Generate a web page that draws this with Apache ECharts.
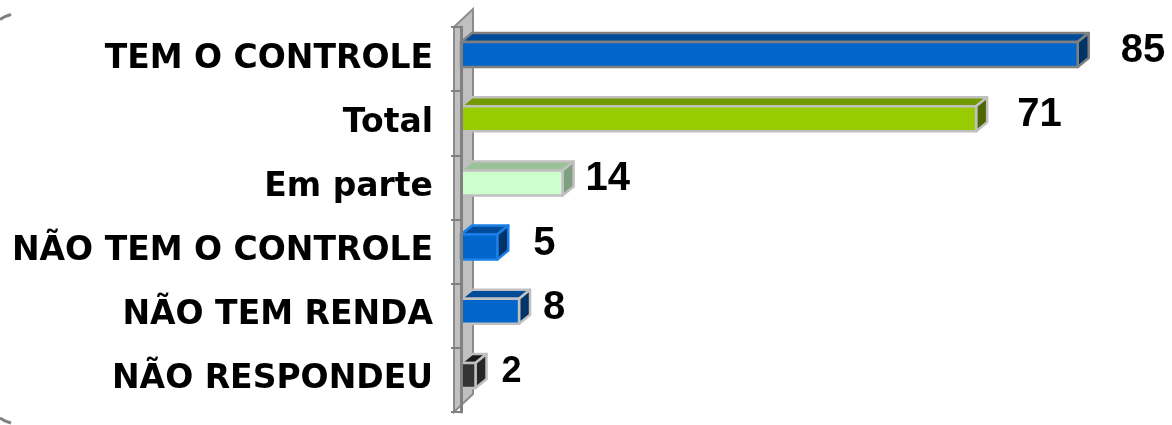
<!DOCTYPE html>
<html>
<head>
<meta charset="utf-8">
<script src="https://cdn.jsdelivr.net/npm/echarts@6/dist/echarts.min.js"></script>
<style>
  html, body { margin: 0; padding: 0; background: #fff; }
  #chart { width: 1172px; height: 425px; }
</style>
</head>
<body>
<div id="chart"></div>
<script>
// categorias (de cima para baixo) e valores
var categorias = ["TEM O CONTROLE", "Total", "Em parte", "NÃO TEM O CONTROLE", "NÃO TEM RENDA", "NÃO RESPONDEU"];
var valores = [85, 71, 14, 5, 8, 2];

// cores de cada barra: frente, topo, lateral, borda
var corFrente = ["#0066CC", "#99CC00", "#CCFFCC", "#0066CC", "#0066CC", "#333333"];
var corTopo = ["#004C99", "#739900", "#99C299", "#004C99", "#004C99", "#1A1A1A"];
var corLado = ["#003366", "#4D6600", "#7F9F7F", "#003366", "#003366", "#262626"];
var corBorda = ["#808080", "#C0C0C0", "#C0C0C0", "#1A7FE6", "#C0C0C0", "#C0C0C0"];
// ajuste manual dos rótulos (distância e tamanho)
var rotuloDist = [32, 30, 12, 25, 13, 15];
var rotuloTam = [40, 40, 40, 40, 40, 36];

var gridLeft = 461, gridTop = 27, gridBottom = 13;
var dx = 11, dy = 9;

var myChart = echarts.init(document.getElementById("chart"));

function renderBarra(params, api) {
    var i = api.value(1);
    var p0 = api.coord([0, i]);
    var p1 = api.coord([api.value(0), i]);
    var x0 = p0[0], x1 = p1[0], yc = p0[1];
    var yt = yc - 17, yb = yc + 8;
    var borda = { stroke: corBorda[i], lineWidth: 2.5, lineJoin: "round" };
    return {
        type: "group",
        children: [
            {
                type: "polygon",
                shape: { points: [[x0, yt], [x0 + dx, yt - dy], [x1 + dx, yt - dy], [x1, yt]] },
                style: Object.assign({ fill: corTopo[i] }, borda)
            },
            {
                type: "polygon",
                shape: { points: [[x1, yt], [x1 + dx, yt - dy], [x1 + dx, yb - dy], [x1, yb]] },
                style: Object.assign({ fill: corLado[i] }, borda)
            },
            {
                type: "rect",
                shape: { x: x0, y: yt, width: x1 - x0, height: yb - yt },
                style: Object.assign({ fill: corFrente[i] }, borda)
            },
            {
                type: "text",
                x: x1 + dx + rotuloDist[i],
                y: yc - 8,
                style: {
                    text: String(api.value(0)),
                    fill: "#000",
                    font: "bold " + rotuloTam[i] + "px 'Liberation Sans', Arial, sans-serif",
                    align: "left",
                    verticalAlign: "middle"
                }
            }
        ]
    };
}

myChart.setOption({
    animation: false,
    grid: { left: gridLeft, right: 58, top: gridTop, bottom: gridBottom, containLabel: false },
    xAxis: {
        type: "value",
        min: 0,
        max: 90,
        show: false
    },
    yAxis: {
        type: "category",
        inverse: true,
        data: categorias,
        offset: 7,
        z: 5,
        axisLine: { show: true, lineStyle: { color: "#808080", width: 3 } },
        axisTick: { show: true, length: 10, lineStyle: { color: "#808080", width: 2 } },
        axisLabel: {
            margin: 21,
            color: "#000",
            fontFamily: "DejaVu Sans",
            fontWeight: "bold",
            fontSize: 33
        }
    },
    // parede lateral do gráfico 3D e restos da moldura à esquerda
    graphic: [
        {
            type: "polyline",
            z: -20,
            shape: { points: [[0, 19.5], [5, 16.5], [11, 14.5]] },
            style: { fill: "none", stroke: "#808080", lineWidth: 3 }
        },
        {
            type: "polyline",
            z: -20,
            shape: { points: [[0, 418], [5, 421], [11, 423]] },
            style: { fill: "none", stroke: "#808080", lineWidth: 3 }
        },
        {
            type: "polygon",
            z: -10,
            shape: { points: [[454, 412], [454, 27], [473, 9], [473, 394]] },
            style: { fill: "#C0C0C0", stroke: "#8C8C8C", lineWidth: 2 }
        }
    ],
    series: [{
        type: "custom",
        renderItem: renderBarra,
        encode: { x: 0, y: 1 },
        data: valores.map(function(v, i) { return [v, i]; }),
        z: 3
    }]
});

window.addEventListener("resize", function() {
    myChart.resize();
});
</script>
</body>
</html>
